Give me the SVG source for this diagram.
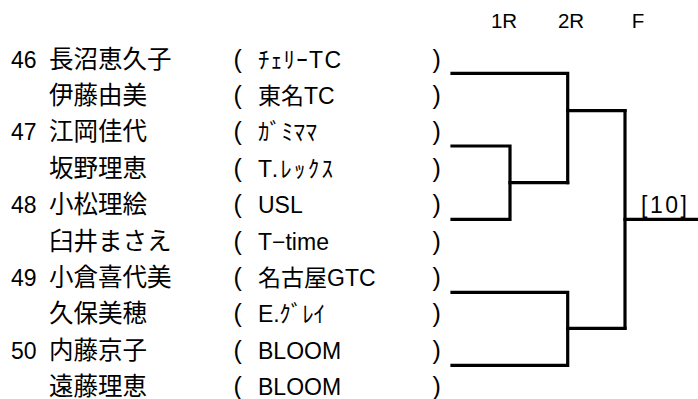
<svg xmlns="http://www.w3.org/2000/svg" width="698" height="399" viewBox="0 0 698 399">
<style>
  text { font-family: "Liberation Sans", "Noto Sans CJK JP", sans-serif; fill: #000; }
  .num { font-size: 23px; }
  .name { font-size: 24.5px; }
  .club { font-size: 23px; }
  .par { font-size: 25px; }
  .hdr { font-size: 20.5px; }
  .ln { fill: none; stroke: #000; stroke-width: 3.2; stroke-linecap: square; stroke-linejoin: miter; }
</style>
<rect width="698" height="399" fill="#fff"/>
<g id="header">
  <text class="hdr" x="504" y="28" text-anchor="middle">1R</text>
  <text class="hdr" x="571" y="28" text-anchor="middle">2R</text>
  <text class="hdr" x="638" y="28" text-anchor="middle">F</text>
</g>
<g id="row1"><text class="num" x="11" y="67.5">46</text><text class="name" x="49" y="67.5">長沼恵久子</text><text class="par" x="233.5" y="67.5">(</text><text class="club" x="258" y="67.5" textLength="83" lengthAdjust="spacing">ﾁｪﾘｰTC</text><text class="par" x="432.5" y="67.5">)</text></g>
<g id="row2"><text class="name" x="49" y="103.9">伊藤由美</text><text class="par" x="233.5" y="103.9">(</text><text class="club" x="258" y="103.9">東名TC</text><text class="par" x="432.5" y="103.9">)</text></g>
<g id="row3"><text class="num" x="11" y="140.3">47</text><text class="name" x="49" y="140.3">江岡佳代</text><text class="par" x="233.5" y="140.3">(</text><text class="club" x="258" y="140.3" textLength="59" lengthAdjust="spacing">ｶﾞﾐﾏﾏ</text><text class="par" x="432.5" y="140.3">)</text></g>
<g id="row4"><text class="name" x="49" y="176.7">坂野理恵</text><text class="par" x="233.5" y="176.7">(</text><text class="club" x="258" y="176.7" textLength="75" lengthAdjust="spacing">T.ﾚｯｸｽ</text><text class="par" x="432.5" y="176.7">)</text></g>
<g id="row5"><text class="num" x="11" y="213.1">48</text><text class="name" x="49" y="213.1">小松理絵</text><text class="par" x="233.5" y="213.1">(</text><text class="club" x="258" y="213.1">USL</text><text class="par" x="432.5" y="213.1">)</text></g>
<g id="row6"><text class="name" x="49" y="249.5">臼井まさえ</text><text class="par" x="233.5" y="249.5">(</text><text class="club" x="258" y="249.5">T−time</text><text class="par" x="432.5" y="249.5">)</text></g>
<g id="row7"><text class="num" x="11" y="285.9">49</text><text class="name" x="49" y="285.9">小倉喜代美</text><text class="par" x="233.5" y="285.9">(</text><text class="club" x="258" y="285.9">名古屋GTC</text><text class="par" x="432.5" y="285.9">)</text></g>
<g id="row8"><text class="name" x="49" y="322.3">久保美穂</text><text class="par" x="233.5" y="322.3">(</text><text class="club" x="258" y="322.3" textLength="67" lengthAdjust="spacing">E.ｸﾞﾚｲ</text><text class="par" x="432.5" y="322.3">)</text></g>
<g id="row9"><text class="num" x="11" y="358.7">50</text><text class="name" x="49" y="358.7">内藤京子</text><text class="par" x="233.5" y="358.7">(</text><text class="club" x="258" y="358.7">BLOOM</text><text class="par" x="432.5" y="358.7">)</text></g>
<g id="row10"><text class="name" x="49" y="395.1">遠藤理恵</text><text class="par" x="233.5" y="395.1">(</text><text class="club" x="258" y="395.1">BLOOM</text><text class="par" x="432.5" y="395.1">)</text></g>
<g id="connectors">
  <path class="ln" d="M452 146 H510 V219.3 H452"/>
  <path class="ln" d="M510 182.7 H567.7"/>
  <path class="ln" d="M452 73.3 H567.7 V182.7"/>
  <path class="ln" d="M567.7 110.7 H625"/>
  <path class="ln" d="M452 292.3 H567.7 V365.3 H452"/>
  <path class="ln" d="M567.7 328.3 H625"/>
  <path class="ln" d="M625 110.7 V328.3"/>
  <path class="ln" d="M625 219.3 H700"/>
</g>
<g id="result">
  <text class="num" x="641" y="213" textLength="46" lengthAdjust="spacing">[10]</text>
</g>
</svg>
